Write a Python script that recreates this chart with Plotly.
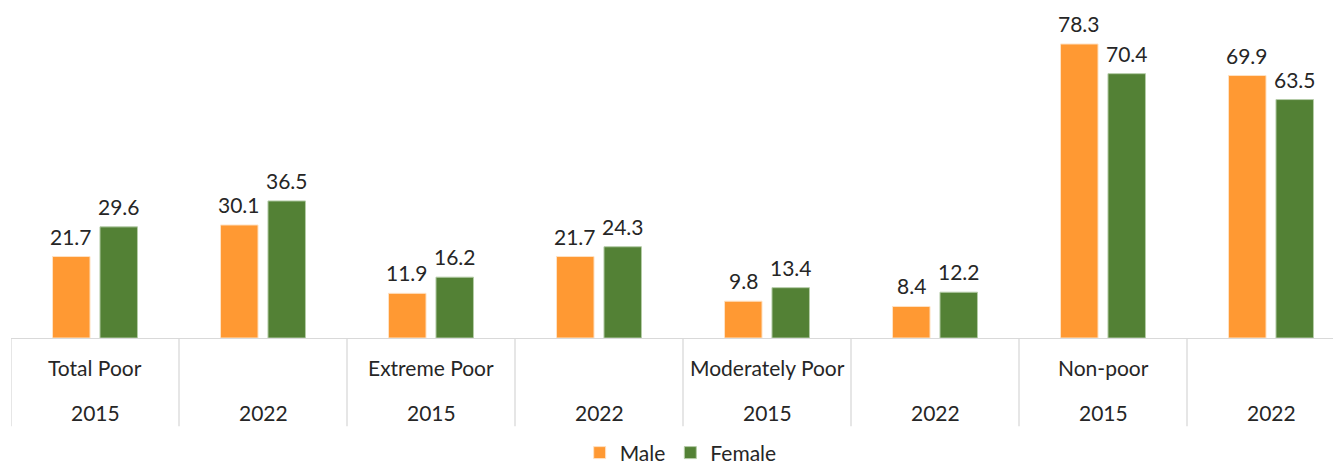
import plotly.graph_objects as go

categories = ["Total Poor", "Extreme Poor", "Moderately Poor", "Non-poor"]
years = ["2015", "2022"]
male = [21.7, 30.1, 11.9, 21.7, 9.8, 8.4, 78.3, 69.9]
female = [29.6, 36.5, 16.2, 24.3, 13.4, 12.2, 70.4, 63.5]

ORANGE = "#FF9933"
GREEN = "#538135"
TEXT = "#262626"
FONT = "Lato"
FS = 21

n = len(male)
xs = list(range(n))

PLOT_H = 333          # px height of plotting area
BAR_SLOT = 47.5       # px distance between paired bar centres

fig = go.Figure()
fig.add_trace(go.Bar(
    x=xs, y=male, name="Male",
    marker=dict(color=ORANGE, line=dict(color="#FFE2C4", width=1)),
))
fig.add_trace(go.Bar(
    x=xs, y=female, name="Female",
    marker=dict(color=GREEN, line=dict(color="#B5CCA8", width=1)),
))

# value labels above bars
for series, shift in ((male, -BAR_SLOT / 2), (female, BAR_SLOT / 2)):
    for i, v in enumerate(series):
        fig.add_annotation(xref="x", yref="y", x=i, y=v, text=f"{v:.1f}", showarrow=False,
                           xshift=shift, yshift=6, yanchor="bottom",
                           font=dict(family=FONT, size=FS, color=TEXT))

# category table below axis
for i in range(n + 1):
    fig.add_shape(type="line", xref="x", yref="paper", x0=i - 0.5, x1=i - 0.5,
                  y0=0, y1=-89 / PLOT_H, line=dict(color="#D9D9D9", width=1.3))
for i in range(n):
    fig.add_annotation(xref="x", yref="paper", x=i, y=-75 / PLOT_H, text=years[i % 2],
                       showarrow=False, font=dict(family=FONT, size=FS, color=TEXT),
                       yanchor="middle")
    if i % 2 == 0:
        fig.add_annotation(xref="x", yref="paper", x=i, y=-30 / PLOT_H,
                           text=categories[i // 2], showarrow=False,
                           font=dict(family=FONT, size=FS, color=TEXT), yanchor="middle")

fig.update_layout(
    width=1341, height=466,
    margin=dict(l=3, r=0, t=0, b=466 - PLOT_H, pad=0),
    plot_bgcolor="white", paper_bgcolor="white",
    barmode="group", bargap=0.435, bargroupgap=0.21,
    xaxis=dict(range=[-0.5, -0.5 + 1338 / 168], showticklabels=False, ticks="",
               showgrid=False, zeroline=False, showline=True, linecolor="#D9D9D9", linewidth=1.3),
    yaxis=dict(range=[0, PLOT_H / 3.789], visible=False, showgrid=False, zeroline=False),
    showlegend=True,
    legend=dict(orientation="h", x=0.5005, xanchor="center", y=-116 / PLOT_H, yanchor="middle",
                font=dict(family=FONT, size=FS, color=TEXT), traceorder="normal"),
    font=dict(family=FONT, color=TEXT),
)

fig.write_html("out.html")
